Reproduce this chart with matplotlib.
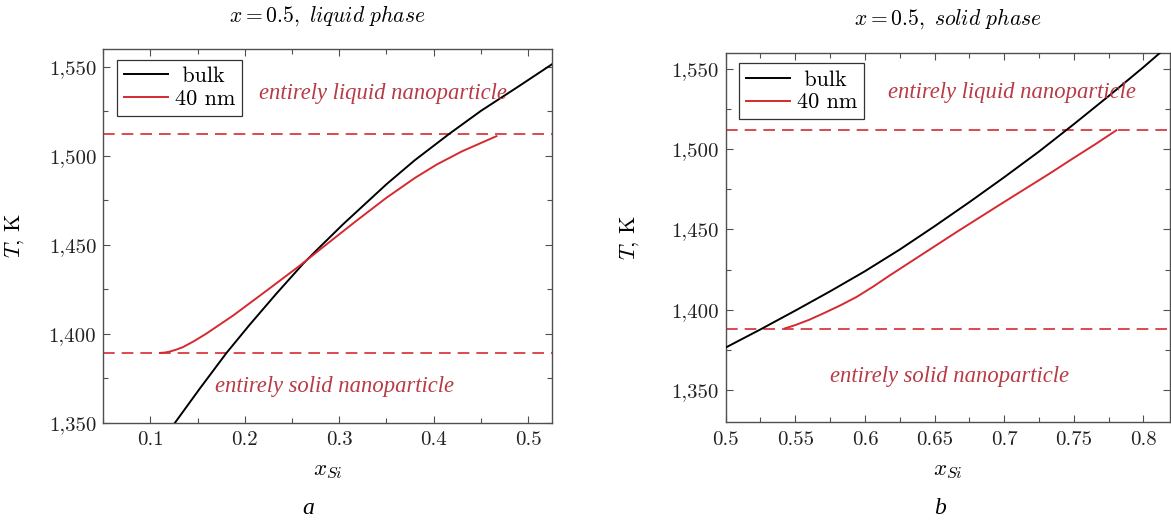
import matplotlib
matplotlib.use("Agg")
import matplotlib.pyplot as plt
from matplotlib.ticker import FixedLocator, AutoMinorLocator

plt.rcParams['font.family'] = 'cmr10'
plt.rcParams['mathtext.fontset'] = 'cm'
plt.rcParams['axes.formatter.use_mathtext'] = True

# panel a: liquid phase
bulk_a_x = [0.126, 0.152, 0.1805, 0.205, 0.233, 0.262, 0.279, 0.304, 0.35, 0.38, 0.417, 0.45, 0.49, 0.525]
bulk_a_T = [1350, 1369, 1389.2, 1405, 1422.3, 1439.5, 1448.5, 1461.5, 1484, 1497.5, 1512.5, 1525.2, 1539, 1551.3]
nano_a_x = [0.11, 0.115, 0.12, 0.127, 0.1345, 0.146, 0.159, 0.1875, 0.223, 0.258, 0.28, 0.318, 0.35, 0.38, 0.403, 0.43, 0.4665]
nano_a_T = [1389.2, 1389.4, 1389.9, 1391, 1392.5, 1395.8, 1400, 1410.2, 1424.2, 1438.2, 1447.5, 1463.4, 1476.4, 1487.5, 1495, 1502.5, 1511]
solid_a, liquid_a = 1389, 1512

# panel b: solid phase
bulk_b_x = [0.5, 0.525, 0.55, 0.575, 0.6, 0.625, 0.65, 0.675, 0.7, 0.725, 0.75, 0.775, 0.8, 0.82]
bulk_b_T = [1376.5, 1387.8, 1399.5, 1411.5, 1424, 1437.5, 1452, 1467, 1482.5, 1498.5, 1515.5, 1533, 1551, 1566]
nano_b_x = [0.5425, 0.55, 0.56, 0.57, 0.582, 0.594, 0.606, 0.618, 0.642, 0.666, 0.697, 0.733, 0.749, 0.765, 0.7805]
nano_b_T = [1388.4, 1390.5, 1393.8, 1397.7, 1402.6, 1408, 1414.5, 1421.5, 1435, 1448.5, 1465.5, 1485, 1494, 1502.8, 1511.7]
solid_b, liquid_b = 1388, 1512

y_ticks = [1350, 1400, 1450, 1500, 1550]
y_labels = ['1,350', '1,400', '1,450', '1,500', '1,550']
x_ticks_a = [0.1, 0.2, 0.3, 0.4, 0.5]
x_labels_a = ['0.1', '0.2', '0.3', '0.4', '0.5']
x_ticks_b = [0.5, 0.55, 0.6, 0.65, 0.7, 0.75, 0.8]
x_labels_b = ['0.5', '0.55', '0.6', '0.65', '0.7', '0.75', '0.8']

RED = '#d42a30'
TXT = '#b83a45'
FRAME = '#505050'

fig = plt.figure(figsize=(11.71, 5.2), dpi=100)
ax1 = fig.add_axes([0.0882, 0.1871, 0.3829, 0.7187])
ax2 = fig.add_axes([0.6197, 0.1879, 0.3794, 0.7108])


def style(ax, xt, xl, xlim, ylim, title):
    ax.set_xlim(*xlim)
    ax.set_ylim(*ylim)
    ax.xaxis.set_major_locator(FixedLocator(xt))
    ax.set_xticklabels(xl)
    ax.yaxis.set_major_locator(FixedLocator(y_ticks))
    ax.set_yticklabels(y_labels)
    ax.xaxis.set_minor_locator(AutoMinorLocator(2))
    ax.yaxis.set_minor_locator(AutoMinorLocator(2))
    ax.tick_params(which='both', direction='in', top=True, right=True,
                   color=FRAME, labelsize=15, labelcolor='#222222')
    ax.tick_params(which='major', length=5, width=0.8)
    ax.tick_params(which='minor', length=3.5, width=0.8)
    ax.tick_params(axis='x', pad=6)
    ax.tick_params(axis='y', pad=5)
    for s in ax.spines.values():
        s.set_color(FRAME)
        s.set_linewidth(1.0)
    ax.set_title(title, fontsize=15.5, pad=20)
    ax.set_ylabel(r'$T$, K', fontsize=16)
    ax.set_xlabel(r'$x_{Si}$', fontsize=16.5)


for ax, bx, bT, nx, nT, sl, ll in [(ax1, bulk_a_x, bulk_a_T, nano_a_x, nano_a_T, solid_a, liquid_a),
                                   (ax2, bulk_b_x, bulk_b_T, nano_b_x, nano_b_T, solid_b, liquid_b)]:
    ax.axhline(ll, color=RED, lw=1.4, dashes=(6, 3.6), alpha=0.85, zorder=1)
    ax.axhline(sl, color=RED, lw=1.4, dashes=(6, 3.6), alpha=0.85, zorder=1)
    ax.plot(bx, bT, color='black', lw=1.4, label=' bulk', zorder=3)
    ax.plot(nx, nT, color=RED, lw=1.4, label='40 nm', zorder=3)

style(ax1, x_ticks_a, x_labels_a, (0.05, 0.525), (1350, 1560),
      r'$x = 0.5,\ \mathit{liquid\ phase}$')
style(ax2, x_ticks_b, x_labels_b, (0.5, 0.819), (1330, 1560),
      r'$x = 0.5,\ \mathit{solid\ phase}$')

ax1.yaxis.set_label_coords(-0.172, 0.5)
ax2.yaxis.set_label_coords(-0.19, 0.5)
ax1.xaxis.set_label_coords(0.5, -0.105)
ax2.xaxis.set_label_coords(0.5, -0.107)

tkw = dict(family='Liberation Serif', style='italic', fontsize=16.3, color=TXT,
           ha='center', va='center')
ax1.text(0.3466, 1535, 'entirely liquid nanoparticle', **tkw)
ax1.text(0.2953, 1370.5, 'entirely solid nanoparticle', **tkw)
ax2.text(0.7052, 1535.5, 'entirely liquid nanoparticle', **tkw)
ax2.text(0.6607, 1358.3, 'entirely solid nanoparticle', **tkw)

for ax, anchor in [(ax1, (0.031, 0.9706)), (ax2, (0.030, 0.9713))]:
    leg = ax.legend(loc='upper left', bbox_to_anchor=anchor, borderaxespad=0,
                    fancybox=False, edgecolor='#333333', framealpha=1,
                    fontsize=16, handlelength=2.0, handletextpad=0.3,
                    labelspacing=0.15, borderpad=0.3)
    leg.get_frame().set_linewidth(0.9)

fig.text(0.263, 0.023, 'a', family='Liberation Serif', style='italic',
         fontsize=17, ha='center', va='center')
fig.text(0.803, 0.023, 'b', family='Liberation Serif', style='italic',
         fontsize=17, ha='center', va='center')

fig.savefig('out.png', dpi=100)
